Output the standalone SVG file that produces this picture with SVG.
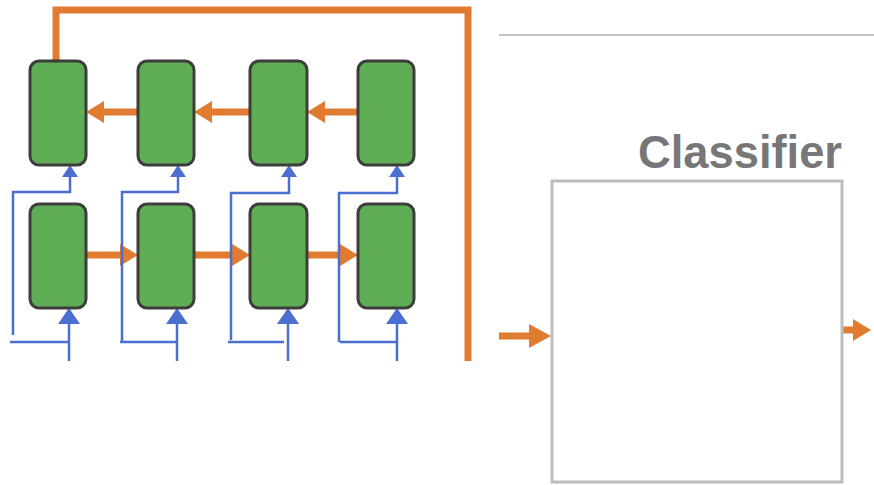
<svg xmlns="http://www.w3.org/2000/svg" width="874" height="485" viewBox="0 0 874 485">
<style>
.cell{fill:#5fae55;stroke:#3d3d3d;stroke-width:3}
.or{fill:none;stroke:#e07b30;stroke-width:7}
.bl{fill:none;stroke:#4b6fd1;stroke-width:2.5}
.lbl{font-family:"Liberation Sans",Arial,sans-serif;font-weight:bold;fill:#777777}
</style>
<defs>
<marker id="oa" markerUnits="userSpaceOnUse" markerWidth="18" markerHeight="22" refX="6" refY="11" orient="auto"><path d="M0,0 L18,11 L0,22 z" fill="#e07b30"/></marker>
<marker id="ob" markerUnits="userSpaceOnUse" markerWidth="22" markerHeight="24" refX="8" refY="12" orient="auto"><path d="M0,0 L22,12 L0,24 z" fill="#e07b30"/></marker>
<marker id="ba" markerUnits="userSpaceOnUse" markerWidth="16" markerHeight="22" refX="4" refY="11" orient="auto"><path d="M0,0 L16,11 L0,22 z" fill="#4b6fd1"/></marker>
<marker id="bs" markerUnits="userSpaceOnUse" markerWidth="12" markerHeight="16" refX="3" refY="8" orient="auto"><path d="M0,0 L12,8 L0,16 z" fill="#4b6fd1"/></marker>
</defs>
<rect width="874" height="485" fill="#ffffff"/>
<g id="connectors">
<path class="or" d="M56,61 L56,10 L468,10 L468,361" stroke-width="6"/>
<path class="or" d="M138,112 L98,112" marker-end="url(#oa)"/>
<path class="or" d="M250,112 L206,112" marker-end="url(#oa)"/>
<path class="or" d="M358,112 L319,112" marker-end="url(#oa)"/>
<path class="or" d="M86,255 L126,255" marker-end="url(#oa)"/>
<path class="or" d="M194,255 L238,255" marker-end="url(#oa)"/>
<path class="or" d="M307,255 L346,255" marker-end="url(#oa)"/>
<path class="bl" d="M69,361 L69,320" marker-end="url(#ba)"/>
<path class="bl" d="M177,361 L177,320" marker-end="url(#ba)"/>
<path class="bl" d="M288,361 L288,320" marker-end="url(#ba)"/>
<path class="bl" d="M397,361 L397,320" marker-end="url(#ba)"/>
<path class="bl" d="M10,342 L69,342"/>
<path class="bl" d="M120,342 L177,342"/>
<path class="bl" d="M228,342 L284,342"/>
<path class="bl" d="M340,342 L397,342"/>
<path class="bl" d="M13,335 L13,192 L70,192 L70,174" marker-end="url(#bs)"/>
<path class="bl" d="M122,342 L122,192 L178,192 L178,174" marker-end="url(#bs)"/>
<path class="bl" d="M231,340 L231,193 L289,193 L289,174" marker-end="url(#bs)"/>
<path class="bl" d="M339,342 L339,193 L397,193 L397,174" marker-end="url(#bs)"/>
<path class="or" d="M499,336 L537,336" stroke-width="9" marker-end="url(#ob)"/>
<path class="or" d="M842,330 L859,330" stroke-width="8" marker-end="url(#oa)"/>
</g>
<g id="top1"><rect class="cell" x="30" y="61" width="56" height="104" rx="9"/></g>
<g id="top2"><rect class="cell" x="138" y="61" width="56" height="104" rx="9"/></g>
<g id="top3"><rect class="cell" x="250" y="61" width="57" height="104" rx="9"/></g>
<g id="top4"><rect class="cell" x="358" y="61" width="56" height="104" rx="9"/></g>
<g id="bot1"><rect class="cell" x="30" y="204" width="56" height="104" rx="9"/></g>
<g id="bot2"><rect class="cell" x="138" y="204" width="56" height="104" rx="9"/></g>
<g id="bot3"><rect class="cell" x="250" y="204" width="57" height="104" rx="9"/></g>
<g id="bot4"><rect class="cell" x="358" y="204" width="56" height="104" rx="9"/></g>
<line x1="499" y1="35" x2="874" y2="35" stroke="#c4c4c4" stroke-width="2"/>
<g id="classifier">
<rect x="552" y="181" width="290" height="301" fill="none" stroke="#bdbdbd" stroke-width="3"/>
<text class="lbl" x="638" y="168" font-size="46" textLength="204" lengthAdjust="spacingAndGlyphs">Classifier</text>
</g>
</svg>
